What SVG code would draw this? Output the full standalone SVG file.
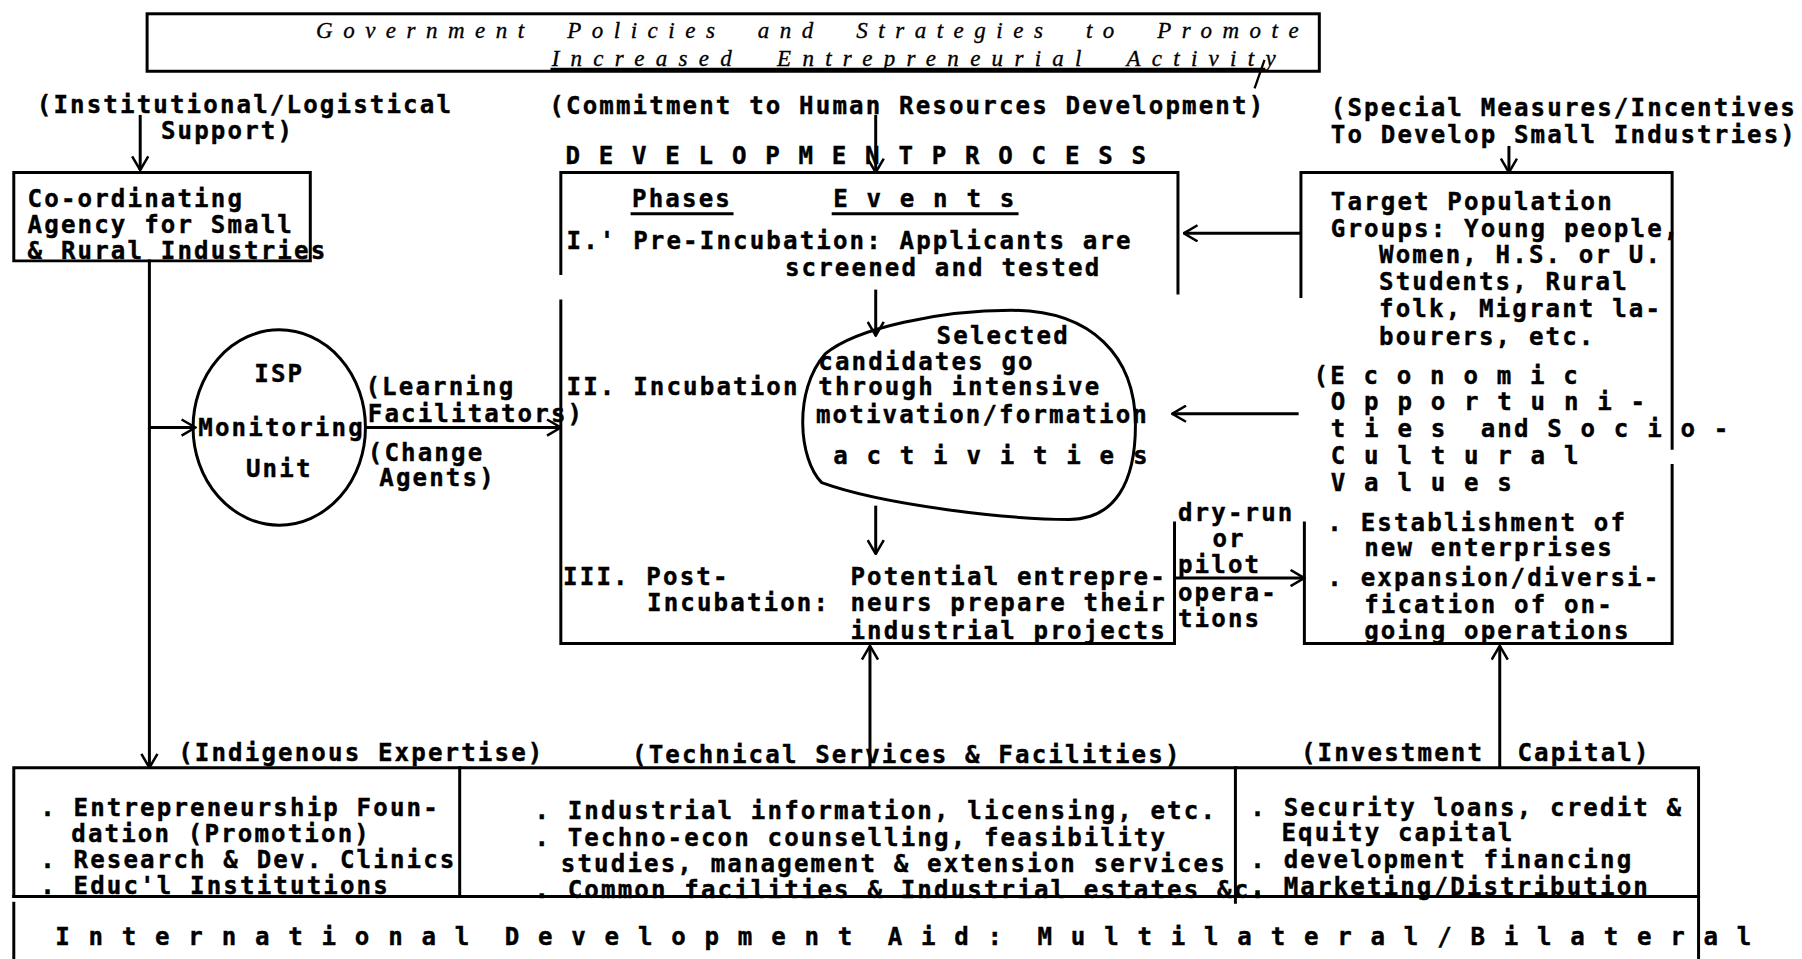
<svg xmlns="http://www.w3.org/2000/svg" width="1802" height="959" viewBox="0 0 1802 959">
<defs>
<marker id="ah" viewBox="0 0 14 16" refX="13" refY="8" markerWidth="14" markerHeight="16" markerUnits="userSpaceOnUse" orient="auto">
<path d="M1,1 L13,8 L1,15" fill="none" stroke="#000" stroke-width="2.2"/>
</marker>
<style>
text{font-family:"DejaVu Sans Mono","Liberation Mono",monospace;font-weight:bold;font-size:21px;letter-spacing:1.85px;fill:#000;stroke:#000;stroke-width:0.35;white-space:pre}
.hw{font-family:"Liberation Serif",serif;font-style:italic;font-weight:normal;font-size:20px;letter-spacing:0;stroke-width:0.3}
.ln{fill:none;stroke:#000;stroke-width:2.6;stroke-linecap:square}
.ar{fill:none;stroke:#000;stroke-width:2.6;marker-end:url(#ah)}
</style>
</defs>
<rect width="1802" height="959" fill="#fff"/>
<g transform="scale(1.14923)">
<g id="title">
<rect class="ln" x="128" y="12" width="1020" height="50"/>
<text class="hw" x="275" y="33" textLength="855" lengthAdjust="spacing">Government  Policies  and  Strategies  to  Promote</text>
<text class="hw" x="480" y="57" textLength="630" lengthAdjust="spacing">Increased  Entrepreneurial  Activity</text>
<line class="ln" x1="480" y1="60" x2="1100" y2="60" style="stroke-width:2"/>
<line class="ln" x1="1100" y1="53" x2="1092" y2="76" style="stroke-width:2"/>
</g>
<g id="labels-top">
<text x="32" y="98">(Institutional/Logistical</text>
<text x="140" y="121">Support)</text>
<text x="478" y="99">(Commitment to Human Resources Development)</text>
<text x="1158" y="101">(Special Measures/Incentives</text>
<text x="1158" y="124">To Develop Small Industries)</text>
</g>
<g id="coord-agency">
<path class="ln" d="M12,227 V150 H270 V227 H12"/>
<text x="24" y="180">Co-ordinating</text>
<text x="24" y="203">Agency for Small</text>
<text x="24" y="225">&amp; Rural Industries</text>
</g>
<g id="isp-unit">
<ellipse class="ln" cx="243" cy="372" rx="75" ry="85"/>
<text x="243" y="332" text-anchor="middle">ISP</text>
<text x="245" y="379" text-anchor="middle">Monitoring</text>
<text x="243" y="415" text-anchor="middle">Unit</text>
</g>
<g id="facilitators">
<text x="318" y="344">(Learning</text>
<text x="320" y="367">Facilitators)</text>
<text x="320" y="401">(Change</text>
<text x="330" y="423">Agents)</text>
</g>
<g id="development-process">
<text x="492" y="143">D E V E L O P M E N T P R O C E S S</text>
<path class="ln" d="M488,238 V150 H1025 V255"/>
<path class="ln" d="M488,262 V560 H1022 V455"/>
<text x="550" y="180">Phases</text>
<line class="ln" x1="550" y1="186" x2="637" y2="186"/>
<text x="725" y="180">E v e n t s</text>
<line class="ln" x1="725" y1="186" x2="885" y2="186"/>
<text x="493" y="217">I.' Pre-Incubation: Applicants are</text>
<text x="683" y="240">screened and tested</text>
<text x="493" y="344">II. Incubation</text>
<text x="490" y="509">III. Post-</text>
<text x="563" y="532">Incubation:</text>
<text x="740" y="509">Potential entrepre-</text>
<text x="740" y="532">neurs prepare their</text>
<text x="740" y="556">industrial projects</text>
</g>
<g id="intensive-activities">
<path class="ln" d="M718,308 C745,285 820,270 880,270 C950,270 988,310 988,370 C988,420 970,452 930,452 C880,452 770,440 715,420 C695,400 690,340 718,308 Z"/>
<text x="815" y="299">Selected</text>
<text x="712" y="322">candidates go</text>
<text x="712" y="344">through intensive</text>
<text x="710" y="368">motivation/formation</text>
<text x="725" y="404">a c t i v i t i e s</text>
</g>
<g id="pilot">
<text x="1025" y="453">dry-run</text>
<text x="1055" y="476">or</text>
<text x="1025" y="499">pilot</text>
<text x="1025" y="523">opera-</text>
<text x="1025" y="546">tions</text>
</g>
<g id="target-population">
<path class="ln" d="M1132,258 V150 H1455 V390"/>
<path class="ln" d="M1455,405 V560 H1135 V455"/>
<text x="1158" y="183">Target Population</text>
<text x="1158" y="206">Groups: Young people,</text>
<text x="1200" y="229">Women, H.S. or U.</text>
<text x="1200" y="252">Students, Rural</text>
<text x="1200" y="276">folk, Migrant la-</text>
<text x="1200" y="300">bourers, etc.</text>
<text x="1143" y="334">(E c o n o m i c</text>
<text x="1158" y="357">O p p o r t u n i -</text>
<text x="1158" y="380">t i e s  and S o c i o -</text>
<text x="1158" y="404">C u l t u r a l</text>
<text x="1158" y="427">V a l u e s</text>
<text x="1155" y="462">. Establishment of</text>
<text x="1187" y="484">new enterprises</text>
<text x="1155" y="510">. expansion/diversi-</text>
<text x="1187" y="533">fication of on-</text>
<text x="1187" y="556">going operations</text>
</g>
<g id="labels-bottom">
<text x="155" y="662">(Indigenous Expertise)</text>
<text x="550" y="664">(Technical Services &amp; Facilities)</text>
<text x="1132" y="662">(Investment  Capital)</text>
</g>
<g id="indigenous-expertise">
<path class="ln" d="M12,780 V668 H400 V780"/>
<text x="35" y="710">. Entrepreneurship Foun-</text>
<text x="62" y="733">dation (Promotion)</text>
<text x="35" y="755">. Research &amp; Dev. Clinics</text>
<text x="35" y="778">. Educ'l Institutions</text>
</g>
<g id="technical-services">
<path class="ln" d="M400,668 H1075 V785"/>
<text x="465" y="713">. Industrial information, licensing, etc.</text>
<text x="465" y="736">. Techno-econ counselling, feasibility</text>
<text x="488" y="759">studies, management &amp; extension services</text>
<text x="465" y="781">. Common facilities &amp; Industrial estates &amp;c.</text>
</g>
<g id="investment-capital">
<path class="ln" d="M1075,668 H1478 V834"/>
<text x="1088" y="710">. Security loans, credit &amp;</text>
<text x="1115" y="732">Equity capital</text>
<text x="1088" y="755">. development financing</text>
<text x="1088" y="779">. Marketing/Distribution</text>
</g>
<g id="international-aid">
<path class="ln" d="M12,780 H1478"/>
<path class="ln" d="M12,786 V834"/>
<text x="48" y="822">I n t e r n a t i o n a l  D e v e l o p m e n t  A i d :  M u l t i l a t e r a l / B i l a t e r a l</text>
</g>
<g id="connectors">
<line class="ar" x1="122" y1="100" x2="122" y2="148"/>
<line class="ln" x1="130" y1="227" x2="130" y2="372"/>
<line class="ar" x1="130" y1="372" x2="130" y2="668"/>
<line class="ar" x1="130" y1="372" x2="170" y2="372"/>
<line class="ar" x1="318" y1="372" x2="488" y2="372"/>
<line class="ar" x1="762" y1="100" x2="762" y2="150"/>
<line class="ar" x1="1313" y1="127" x2="1313" y2="150"/>
<line class="ar" x1="762" y1="252" x2="762" y2="292"/>
<line class="ar" x1="762" y1="440" x2="762" y2="482"/>
<line class="ar" x1="1132" y1="203" x2="1030" y2="203"/>
<line class="ar" x1="1130" y1="360" x2="1020" y2="360"/>
<line class="ar" x1="1022" y1="503" x2="1135" y2="503"/>
<line class="ar" x1="757" y1="668" x2="757" y2="562"/>
<line class="ar" x1="1305" y1="668" x2="1305" y2="562"/>
</g>
</g>
</svg>
